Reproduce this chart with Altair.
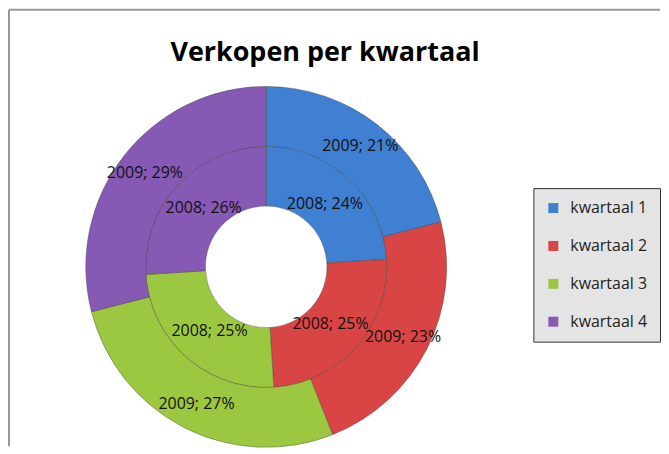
import altair as alt
import pandas as pd

# ---- data ----
kwartalen = ["kwartaal 1", "kwartaal 2", "kwartaal 3", "kwartaal 4"]
pct_2008 = [24, 25, 25, 26]
pct_2009 = [21, 23, 27, 29]
kleuren = ["#3F80D2", "#D94545", "#9CC841", "#8659B4"]
titel = "Verkopen per kwartaal"

rows = []
for i, k in enumerate(kwartalen):
    rows.append({"kwartaal": k, "idx": i, "jaar": "2008", "pct": pct_2008[i]})
    rows.append({"kwartaal": k, "idx": i, "jaar": "2009", "pct": pct_2009[i]})
df = pd.DataFrame(rows)
df["label"] = df["jaar"] + "; " + df["pct"].astype(str) + "%"

W, H = 653, 438
CX, CY = 258, 258
FONT = "Open Sans"

base = alt.Chart(df)

color = alt.Color(
    "kwartaal:N",
    scale=alt.Scale(domain=kwartalen, range=kleuren),
    legend=alt.Legend(
        title=None,
        orient="none",
        legendX=526,
        legendY=179,
        symbolType="square",
        symbolSize=100,
        symbolStrokeWidth=0,
        labelFont=FONT,
        labelFontSize=16,
        labelColor="#222222",
        rowPadding=22,
        padding=12,
        labelOffset=9,
        fillColor="#E4E4E4",
        strokeColor="#333333",
        cornerRadius=0,
    ),
)

theta = alt.Theta("pct:Q", stack=True, scale=alt.Scale(domain=[0, 100]))
order = alt.Order("idx:Q")

ring08 = base.transform_filter(alt.datum.jaar == "2008").mark_arc(
    innerRadius=61, outerRadius=121, stroke="#333333", strokeWidth=0.6, strokeOpacity=0.6
).encode(theta=theta, color=color, order=order, x=alt.value(CX), y=alt.value(CY))

ring09 = base.transform_filter(alt.datum.jaar == "2009").mark_arc(
    innerRadius=121, outerRadius=181, stroke="#333333", strokeWidth=0.6, strokeOpacity=0.6
).encode(theta=theta, color=color, order=order, x=alt.value(CX), y=alt.value(CY))

txt08 = base.transform_filter(alt.datum.jaar == "2008").mark_text(
    radius=86, font=FONT, fontSize=16, color="#111111"
).encode(theta=theta, text="label:N", order=order, x=alt.value(CX), y=alt.value(CY))

txt09 = base.transform_filter(alt.datum.jaar == "2009").mark_text(
    radius=154, font=FONT, fontSize=16, color="#111111"
).encode(theta=theta, text="label:N", order=order, x=alt.value(CX), y=alt.value(CY))

title_df = pd.DataFrame({"t": [titel]})
title_mark = alt.Chart(title_df).mark_text(
    font=FONT, fontSize=27, fontWeight="bold", color="#000000", baseline="alphabetic"
).encode(text="t:N", x=alt.value(317), y=alt.value(51))

border_left = alt.Chart(title_df).mark_rule(color="#999999", strokeWidth=2).encode(
    x=alt.value(0), y=alt.value(0), y2=alt.value(H)
)
border_top = alt.Chart(title_df).mark_rule(color="#999999", strokeWidth=2).encode(
    x=alt.value(0), x2=alt.value(W), y=alt.value(0)
)

chart = (
    alt.layer(ring08, ring09, txt08, txt09, title_mark, border_left, border_top)
    .properties(width=W, height=H, padding=0)
    .configure_view(stroke=None)
)

chart.save("out.html", embed_options={"renderer": "svg", "actions": False})
